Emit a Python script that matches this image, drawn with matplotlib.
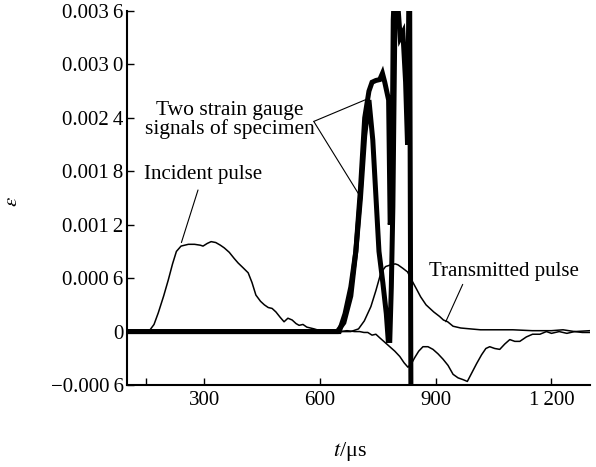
import matplotlib
matplotlib.use("Agg")
import matplotlib.pyplot as plt
import numpy as np

# time axis in microseconds, strain values in units of 1e-4
t_inc = [100, 150, 158, 170, 181, 195, 207, 218, 228, 240, 259, 275, 290, 297, 308, 318, 330,
         342, 352, 365, 378, 388, 400, 414, 424, 434, 446, 456, 466, 476, 486, 497, 507, 517,
         528, 538, 546, 556, 566, 585, 600, 610, 625, 640, 654, 670, 690, 703, 714, 724, 735,
         745, 755, 768, 781, 794, 807, 818, 828, 837, 846, 856, 867, 880, 893, 906, 919, 932,
         945, 958, 971, 982, 994, 1006, 1019, 1030, 1040, 1053, 1066, 1079, 1092, 1105, 1118,
         1135, 1151, 1170, 1187, 1200, 1220, 1240, 1260, 1280, 1300]
e_inc = [0, 0, 0.1, 0.8, 2.1, 4.0, 5.8, 7.6, 9.0, 9.6, 9.8, 9.8, 9.7, 9.6, 9.9, 10.1, 10.0,
         9.7, 9.4, 8.9, 8.2, 7.7, 7.2, 6.6, 5.5, 4.1, 3.4, 3.0, 2.7, 2.6, 2.2, 1.6, 1.1, 1.5,
         1.3, 0.9, 0.7, 0.8, 0.5, 0.3, 0.1, -0.1, 0.0, 0.1, 0.0, 0.1, 0.0, 0.0, -0.1, -0.1, -0.4,
         -0.3, -0.7, -1.2, -1.7, -2.2, -2.8, -3.5, -4.0, -3.6, -2.9, -2.2, -1.7, -1.7, -2.0, -2.5,
         -3.1, -3.8, -4.8, -5.2, -5.4, -5.6, -4.6, -3.6, -2.6, -1.9, -1.7, -1.9, -2.0, -1.4,
         -0.9, -1.1, -1.1, -0.6, -0.3, -0.3, 0.0, -0.2, 0.0, -0.2, 0.0, -0.1, -0.1]

t_tr = [100, 680, 700, 715, 732, 745, 758, 770, 784, 795, 802, 815, 827, 840, 850, 861, 875,
        885, 895, 910, 920, 931, 945, 965, 990, 1016, 1050, 1100, 1150, 1200, 1230, 1260, 1300]
e_tr = [0, 0, 0.3, 1.2, 2.8, 4.6, 6.6, 7.3, 7.5, 7.6, 7.5, 7.1, 6.7, 5.6, 4.8, 3.9, 3.0,
        2.6, 2.2, 1.7, 1.3, 1.1, 0.6, 0.4, 0.3, 0.2, 0.2, 0.2, 0.1, 0.1, 0.2, 0.0, 0.1]

# strain gauge A (with plateau) and gauge B (narrow peak)
t_ga = [100, 645, 662, 680, 693, 705, 716, 727, 735, 745, 755, 762, 768, 773, 778, 782,
        786, 790, 795, 803, 808, 815, 822, 827, 832, 836]
e_ga = [0, 0, 1, 4, 9, 16, 24, 27, 28, 28.2, 28.3, 29, 28, 27, 26, 12,
        13, 35, 40, 36, 33, 33.6, 28, 21, 45, -10]

t_gb = [100, 650, 665, 680, 693, 705, 716, 727, 737, 753, 763, 772, 777, 781, 785, 789, 793, 797]
e_gb = [0, 0, 2, 5, 9, 15, 22, 26, 21.5, 9, 5.5, 2, -1, -1, 5, 14, 30, 45]

x_ticks = [150, 300, 600, 900, 1200]
x_labels = ["", "300", "600", "900", "1\u2009200"]
y_ticks = [-6, 0, 6, 12, 18, 24, 30, 36]
y_labels = ["\u22120.000\u20096", "0", "0.000\u20096", "0.001\u20092", "0.001\u20098",
            "0.002\u20094", "0.003\u20090", "0.003\u20096"]

plt.rcParams['font.family'] = ['Liberation Serif', 'DejaVu Serif']
plt.rcParams['mathtext.fontset'] = 'stix'

fig = plt.figure(figsize=(5.96, 4.67), dpi=100)
ax = fig.add_axes([0.2131, 0.1756, 0.7769, 0.8008])

ax.plot(t_inc, e_inc, color='black', lw=1.1)
ax.plot(t_tr, e_tr, color='black', lw=1.1)
ax.plot(t_ga, e_ga, color='black', lw=3.6, solid_joinstyle='miter')
ax.plot(t_gb, e_gb, color='black', lw=3.6, solid_joinstyle='miter')

ax.set_xlim(100, 1300)
ax.set_ylim(-6, 36)
ax.set_xticks(x_ticks)
ax.set_xticklabels(x_labels)
ax.set_yticks(y_ticks)
ax.set_yticklabels(y_labels)
ax.tick_params(direction='in', length=5, width=1, labelsize=15)
ax.tick_params(axis='x', pad=4)
ax.tick_params(axis='y', pad=2.5)
for s in ['top', 'right']:
    ax.spines[s].set_visible(False)
for s in ['left', 'bottom']:
    ax.spines[s].set_linewidth(1.5)

ax.set_ylabel(r'$\varepsilon$', fontsize=15)
ax.yaxis.set_label_coords(-0.226, 0.49)
ax.set_xlabel(r'$t$/μs', fontsize=16)
ax.xaxis.set_label_coords(0.482, -0.148)

line_kw = dict(arrowstyle='-', color='black', lw=0.8, shrinkA=0, shrinkB=0)
ax.text(297, 17.6, 'Incident pulse', fontsize=15, ha='center', va='center')
ax.annotate('', xy=(241, 10.0), xytext=(284, 15.9), arrowprops=line_kw)
ax.text(366, 23.8, 'Two strain gauge\nsignals of specimen', fontsize=15.5,
        ha='center', va='center', linespacing=0.95)
ax.annotate('', xy=(727, 26.2), xytext=(584, 23.6), arrowprops=line_kw)
ax.annotate('', xy=(701, 15.4), xytext=(584, 23.6), arrowprops=line_kw)
ax.text(1076, 6.7, 'Transmitted pulse', fontsize=15, ha='center', va='center')
ax.annotate('', xy=(926, 1.1), xytext=(970, 5.3), arrowprops=line_kw)

fig.savefig('out.png', dpi=100)
